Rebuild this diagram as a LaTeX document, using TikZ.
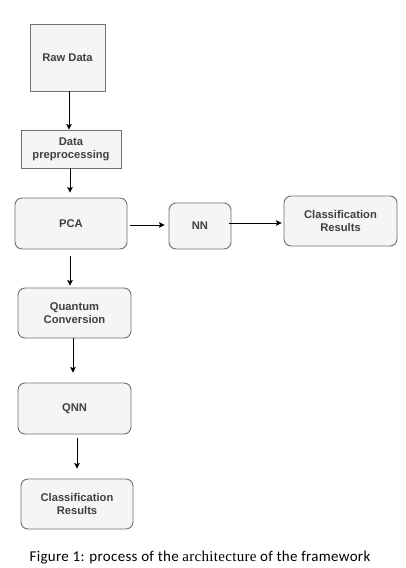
\documentclass[tikz,border=0pt]{standalone}
\usepackage{fontspec}
\setmainfont{Liberation Sans}
\newfontfamily\capfont[LetterSpace=2]{Carlito}
\newfontfamily\capserif[LetterSpace=2]{Liberation Serif}
\usetikzlibrary{arrows.meta}
\definecolor{boxfill}{HTML}{F5F5F5}
\definecolor{boxline}{HTML}{707070}
\definecolor{boxtext}{HTML}{404040}
\begin{document}
\begin{tikzpicture}[x=1pt,y=-1pt,
  box/.style={draw=boxline, fill=boxfill, line width=0.9pt, align=center,
    inner sep=0pt, text=boxtext, font=\fontsize{11.2}{13}\selectfont\bfseries},
  rbox/.style={box, rounded corners=7pt},
  arr/.style={draw=black, line width=0.9pt, -{Stealth[length=5.5pt,width=5.5pt,inset=1pt]}}]
\useasboundingbox (0,0) rectangle (405,568);
\fill[white] (0,0) rectangle (405,568);

\node[box, minimum width=75pt, minimum height=67pt] (raw) at (67.5,57.5) {Raw Data};
\node[box, minimum width=100pt, minimum height=38pt] (dp) at (71,149) {Data\\preprocessing};
\node[rbox, minimum width=112pt, minimum height=51pt] (pca) at (71,223.5) {PCA};
\node[rbox, minimum width=62pt, minimum height=46pt] (nn) at (200,226) {NN};
\node[rbox, minimum width=113pt, minimum height=50pt] (cr1) at (340.5,221) {Classification\\Results};
\node[rbox, minimum width=113pt, minimum height=50pt] (qc) at (74.5,313) {Quantum\\Conversion};
\node[rbox, minimum width=113pt, minimum height=51pt] (qnn) at (74.5,408.5) {QNN};
\node[rbox, minimum width=112pt, minimum height=50pt] (cr2) at (77,504) {Classification\\Results};

\draw[arr] ([xshift=1.5pt]raw.south) -- ([xshift=-2pt]dp.north);
\draw[arr, shorten >=5pt] ([xshift=-1pt]dp.south) -- ([xshift=-1pt]pca.north);
\draw[arr, shorten <=3pt, shorten >=4pt] ([yshift=-1.5pt]pca.east) -- ([yshift=1pt]nn.west);
\draw[arr, shorten <=-2pt, shorten >=2pt] ([yshift=3pt]nn.east) -- ([yshift=-2pt]cr1.west);
\draw[arr, shorten <=7pt, shorten >=2pt] ([xshift=-1pt]pca.south) -- ([xshift=-4.5pt]qc.north);
\draw[arr, shorten >=10pt] ([xshift=-1.5pt]qc.south) -- ([xshift=-1.5pt]qnn.north);
\draw[arr, shorten <=4pt, shorten >=10pt] ([xshift=2.5pt]qnn.south) -- (cr2.north);

\node[anchor=base, font=\capfont\fontsize{15}{17}\selectfont] (cap) at (200,561)
  {Figure 1: process of the {\capserif architecture} of the framework};
\end{tikzpicture}
\end{document}
